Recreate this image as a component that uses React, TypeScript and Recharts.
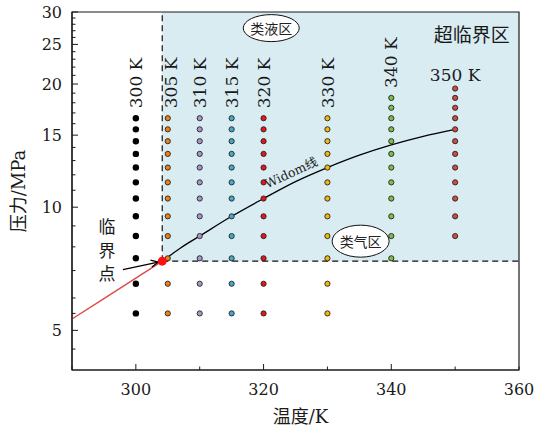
import React from 'react';
import {
  ComposedChart,
  XAxis,
  YAxis,
  Scatter,
  Line,
  ReferenceArea,
  ReferenceLine,
  ReferenceDot,
  Label,
} from 'recharts';

// Isotherm sample pressures (MPa) for each temperature (K)
const temperatures = [300, 305, 310, 315, 320, 330, 340, 350];
const p300 = [5.5, 6.5, 7.5, 8.5, 9.5, 10.5, 11.5, 12.5, 13.5, 14.5, 15.5, 16.5];
const p305 = [5.5, 6.5, 7.5, 8.5, 9.5, 10.5, 11.5, 12.5, 13.5, 14.5, 15.5, 16.5];
const p310 = [5.5, 6.5, 7.5, 8.5, 9.5, 10.5, 11.5, 12.5, 13.5, 14.5, 15.5, 16.5];
const p315 = [5.5, 6.5, 7.5, 8.5, 9.5, 10.5, 11.5, 12.5, 13.5, 14.5, 15.5, 16.5];
const p320 = [5.5, 6.5, 7.5, 8.5, 9.5, 10.5, 11.5, 12.5, 13.5, 14.5, 15.5, 16.5];
const p330 = [5.5, 6.5, 7.5, 8.5, 9.5, 10.5, 11.5, 12.5, 13.5, 14.5, 15.5, 16.5];
const p340 = [7.5, 8.5, 9.5, 10.5, 11.5, 12.5, 13.5, 14.5, 15.5, 16.5, 17.5, 18.5];
const p350 = [8.5, 9.5, 10.5, 11.5, 12.5, 13.5, 14.5, 15.5, 16.5, 17.5, 18.5, 19.5];
const isothermPressures = [p300, p305, p310, p315, p320, p330, p340, p350];
const isothermColors = ['#000000', '#f07f17', '#a996c6', '#45a8c8', '#e8141c', '#f5b70b', '#7cbf45', '#cf4a40'];
const isothermLabels = ['300 K', '305 K', '310 K', '315 K', '320 K', '330 K', '340 K', '350 K'];

// Critical point of CO2
const criticalT = 304.13;
const criticalP = 7.38;

// Gas–liquid coexistence curve up to the critical point
const saturationT = [290, 295, 300, 304.13];
const saturationP = [5.33, 5.98, 6.71, 7.38];

// Widom line beyond the critical point
const widomT = [304.13, 305, 307, 310, 315, 320, 325, 330, 335, 340, 345, 350];
const widomP = [7.38, 7.55, 7.95, 8.5, 9.5, 10.5, 11.55, 12.5, 13.4, 14.2, 14.9, 15.5];

// Axes
const xDomain = [290, 360];
const yDomain = [4, 30];
const xTicks = [290, 300, 310, 320, 330, 340, 350, 360];
const xMajorTicks = [300, 320, 340];
const xLabeledTicks = [300, 320, 340, 360];
const yTicks = [4.5, 5, 5.5, 6, 7, 8, 9, 10, 11, 12, 13, 14, 15, 16, 17, 18, 19, 20, 21, 22, 23, 24, 25, 26, 27, 28, 29, 30];
const yMajorTicks = [5, 10, 15, 20, 25, 30];

// Annotation anchors (data coordinates)
const liquidLikePos = { T: 321.2, p: 27.4 };
const gasLikePos = { T: 335.2, p: 8.26 };
const supercriticalPos = { T: 352.6, p: 26.6 };
const widomLabelPos = { T: 324.3, p: 12.15 };
const criticalTextPos = { T: 295.5, p: 7.88 };
const arrowFrom = { T: 297.97, p: 7.04 };
const arrowTo = { T: 303.5, p: 7.34 };

const FONT = "'DejaVu Serif', 'Noto Sans CJK SC', serif";
const CJK = "'Noto Sans CJK SC', sans-serif";
const INK = '#1a1a1a';

const saturationData = saturationT.map((T, i) => ({ T, p: saturationP[i] }));
const widomData = widomT.map((T, i) => ({ T, p: widomP[i] }));

const XTick = (props: any) => {
  const { x, y, payload } = props;
  const v = payload.value;
  const len = xMajorTicks.includes(v) ? 6 : 3.5;
  return (
    <g>
      <line x1={x} y1={y} x2={x} y2={y - len} stroke={INK} strokeWidth={1} />
      {xLabeledTicks.includes(v) && (
        <text x={x} y={y + 25} textAnchor="middle" fontFamily={FONT} fontSize={16} fill={INK}>
          {v}
        </text>
      )}
    </g>
  );
};

const YTick = (props: any) => {
  const { x, y, payload } = props;
  const v = payload.value;
  const major = yMajorTicks.includes(v);
  return (
    <g>
      <line x1={x} y1={y} x2={x + (major ? 6 : 3.5)} y2={y} stroke={INK} strokeWidth={1} />
      {major && (
        <text x={x - 10} y={y + 6} textAnchor="end" fontFamily={FONT} fontSize={16} fill={INK}>
          {v}
        </text>
      )}
    </g>
  );
};

const makeDot = (color: string, isBlack: boolean) => (props: any) => {
  const { cx, cy } = props;
  if (cx == null || cy == null) return <g />;
  return isBlack ? (
    <circle cx={cx} cy={cy} r={3.2} fill="#000" />
  ) : (
    <circle cx={cx} cy={cy} r={2.6} fill={color} stroke="#222" strokeWidth={0.9} />
  );
};

const ArrowShape = (props: any) => {
  const { x1, y1, x2, y2 } = props;
  const ang = Math.atan2(y2 - y1, x2 - x1);
  const head = 8;
  const spread = 0.45;
  const ax = x2 - head * Math.cos(ang - spread);
  const ay = y2 - head * Math.sin(ang - spread);
  const bx = x2 - head * Math.cos(ang + spread);
  const by = y2 - head * Math.sin(ang + spread);
  return (
    <g>
      <line x1={x1} y1={y1} x2={x2} y2={y2} stroke="#000" strokeWidth={1.3} />
      <path d={`M${ax},${ay} L${x2},${y2} L${bx},${by}`} fill="none" stroke="#000" strokeWidth={1.3} />
    </g>
  );
};

const ellipseLabel = (text: string, rx: number, ry: number) => (props: any) => {
  const { cx, cy } = props;
  return (
    <g>
      <ellipse cx={cx} cy={cy} rx={rx} ry={ry} fill="#fff" stroke="#111" strokeWidth={1} />
      <text x={cx} y={cy} textAnchor="middle" dominantBaseline="central" fontFamily={CJK} fontSize={14} fill="#222">
        {text}
      </text>
    </g>
  );
};

const tempLabel = (text: string, rotated: boolean, dx: number) => (props: any) => {
  const { cx, cy } = props;
  if (rotated) {
    const x = cx + dx;
    const y = cy - 10;
    return (
      <text
        x={x}
        y={y}
        dy="0.36em"
        transform={`rotate(-90, ${x}, ${y})`}
        textAnchor="start"
        fontFamily={FONT}
        fontSize={17}
        fill={INK}
      >
        {text}
      </text>
    );
  }
  return (
    <text x={cx} y={cy - 8} textAnchor="middle" fontFamily={FONT} fontSize={17} fill={INK}>
      {text}
    </text>
  );
};

export default function App() {
  return (
    <div style={{ position: 'absolute', left: 0, top: 0, width: 536, height: 432, background: '#fff' }}>
      <ComposedChart width={536} height={432} margin={{ top: 12, right: 17, bottom: 0, left: 0 }}>
        <XAxis
          dataKey="T"
          type="number"
          domain={xDomain}
          ticks={xTicks}
          interval={0}
          allowDataOverflow
          height={62}
          tickSize={0}
          tickMargin={0}
          tickLine={false}
          axisLine={{ stroke: INK, strokeWidth: 1.2 }}
          tick={<XTick />}
        >
          <Label
            content={(p: any) => {
              const vb = p.viewBox;
              return (
                <text x={vb.x + vb.width / 2 + 5} y={423} textAnchor="middle" fontFamily={FONT} fontSize={18} fill={INK}>
                  温度/K
                </text>
              );
            }}
          />
        </XAxis>
        <YAxis
          dataKey="p"
          type="number"
          scale="log"
          domain={yDomain}
          ticks={yTicks}
          interval={0}
          allowDataOverflow
          width={72}
          tickSize={0}
          tickMargin={0}
          tickLine={false}
          axisLine={{ stroke: INK, strokeWidth: 1.2 }}
          tick={<YTick />}
        >
          <Label
            content={(p: any) => {
              const vb = p.viewBox;
              const cx = 19;
              const cy = vb.y + vb.height / 2;
              return (
                <text
                  x={cx}
                  y={cy}
                  dy="0.36em"
                  transform={`rotate(-90, ${cx}, ${cy})`}
                  textAnchor="middle"
                  fontFamily={FONT}
                  fontSize={18}
                  fill={INK}
                >
                  压力/MPa
                </text>
              );
            }}
          />
        </YAxis>

        {/* supercritical region */}
        <ReferenceArea
          x1={criticalT}
          x2={xDomain[1]}
          y1={criticalP}
          y2={yDomain[1]}
          fill="#d9ecf2"
          fillOpacity={1}
          stroke="none"
          ifOverflow="visible"
        />
        <ReferenceLine
          segment={[{ x: criticalT, y: criticalP }, { x: criticalT, y: yDomain[1] }]}
          stroke="#111"
          strokeWidth={1.2}
          strokeDasharray="6 4"
          ifOverflow="visible"
        />
        <ReferenceLine
          segment={[{ x: criticalT, y: criticalP }, { x: xDomain[1], y: criticalP }]}
          stroke="#111"
          strokeWidth={1.2}
          strokeDasharray="6 4"
          ifOverflow="visible"
        />

        <Line
          data={saturationData}
          dataKey="p"
          type="linear"
          stroke="#e04848"
          strokeWidth={1.4}
          dot={false}
          activeDot={false}
          isAnimationActive={false}
        />
        <Line
          data={widomData}
          dataKey="p"
          type="monotone"
          stroke="#000"
          strokeWidth={1.3}
          dot={false}
          activeDot={false}
          isAnimationActive={false}
        />

        {temperatures.map((T, i) => (
          <Scatter
            key={T}
            data={isothermPressures[i].map((p) => ({ T, p }))}
            dataKey="p"
            shape={makeDot(isothermColors[i], i === 0)}
            isAnimationActive={false}
          />
        ))}

        <Scatter
          data={[{ T: criticalT, p: criticalP }]}
          dataKey="p"
          shape={(p: any) => <circle cx={p.cx} cy={p.cy} r={4.5} fill="#ff1010" />}
          isAnimationActive={false}
        />

        <ReferenceLine
          segment={[{ x: arrowFrom.T, y: arrowFrom.p }, { x: arrowTo.T, y: arrowTo.p }]}
          shape={ArrowShape}
          ifOverflow="visible"
        />

        {temperatures.map((T, i) => {
          const ps = isothermPressures[i];
          const top = ps[ps.length - 1];
          return (
            <ReferenceDot
              key={'lbl' + T}
              x={T}
              y={top}
              r={0}
              ifOverflow="visible"
              shape={tempLabel(isothermLabels[i], T !== 350, T === 305 ? 3 : 0)}
            />
          );
        })}

        <ReferenceDot
          x={liquidLikePos.T}
          y={liquidLikePos.p}
          ifOverflow="visible"
          shape={ellipseLabel('类液区', 28, 13.5)}
        />
        <ReferenceDot
          x={gasLikePos.T}
          y={gasLikePos.p}
          ifOverflow="visible"
          shape={ellipseLabel('类气区', 28.5, 16)}
        />
        <ReferenceDot
          x={supercriticalPos.T}
          y={supercriticalPos.p}
          ifOverflow="visible"
          shape={(p: any) => (
            <text x={p.cx} y={p.cy} textAnchor="middle" dominantBaseline="central" fontFamily={CJK} fontSize={19} fill={INK}>
              超临界区
            </text>
          )}
        />
        <ReferenceDot
          x={widomLabelPos.T}
          y={widomLabelPos.p}
          ifOverflow="visible"
          shape={(p: any) => (
            <text
              x={p.cx}
              y={p.cy}
              textAnchor="middle"
              dominantBaseline="central"
              transform={`rotate(-25, ${p.cx}, ${p.cy})`}
              fontFamily={FONT}
              fontSize={12.5}
              fill="#222"
            >
              Widom线
            </text>
          )}
        />
        <ReferenceDot
          x={criticalTextPos.T}
          y={criticalTextPos.p}
          ifOverflow="visible"
          shape={(p: any) => (
            <text textAnchor="middle" fontFamily={CJK} fontSize={17} fill={INK}>
              <tspan x={p.cx} y={p.cy - 24} dominantBaseline="central">临</tspan>
              <tspan x={p.cx} y={p.cy} dominantBaseline="central">界</tspan>
              <tspan x={p.cx} y={p.cy + 23} dominantBaseline="central">点</tspan>
            </text>
          )}
        />

        {/* plot frame */}
        <ReferenceArea
          x1={xDomain[0]}
          x2={xDomain[1]}
          y1={yDomain[0]}
          y2={yDomain[1]}
          fill="none"
          stroke={INK}
          strokeWidth={1.2}
          ifOverflow="visible"
        />
      </ComposedChart>
    </div>
  );
}
